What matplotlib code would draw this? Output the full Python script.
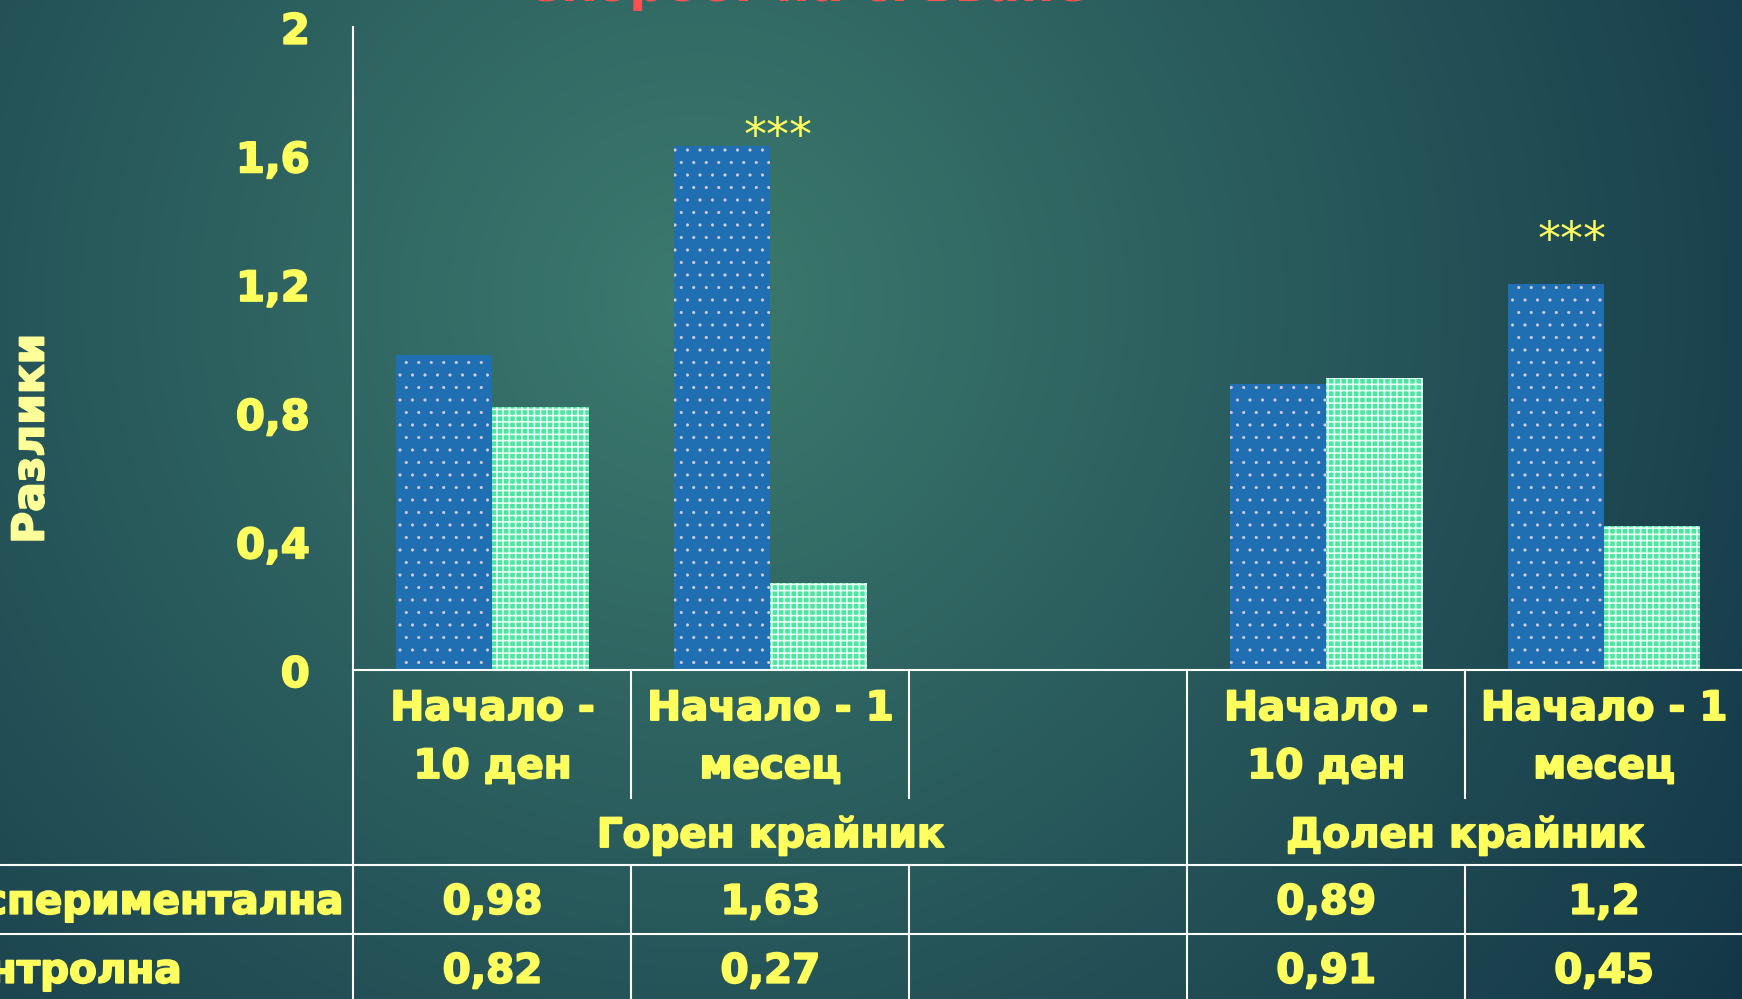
import numpy as np
import matplotlib
matplotlib.use("Agg")
import matplotlib.pyplot as plt
import matplotlib.patheffects as pe
from matplotlib.colors import to_rgb
from matplotlib.lines import Line2D
from matplotlib.transforms import blended_transform_factory

# ---- data -------------------------------------------------------------
categories = ["Начало -\n10 ден", "Начало - 1\nмесец", "", "Начало -\n10 ден", "Начало - 1\nмесец"]
groups = ["Горен крайник", "Долен крайник"]
group_centers = [1.0, 3.5]
series_names = ["Експериментална", "Контролна"]
experimental = [0.98, 1.63, np.nan, 0.89, 1.2]
control = [0.82, 0.27, np.nan, 0.91, 0.45]
significance = ["", "***", "", "", "***"]
yticks = [0, 0.4, 0.8, 1.2, 1.6, 2.0]
ylabel = "Разлики"
title = "Скорост на сгъване"

# ---- style --------------------------------------------------------------
W, H, DPI = 1743, 999, 150
YELLOW = "#FFFF5E"
PALE_YELLOW = "#FFFF99"
BLUE = "#1F6FB2"
GREEN = "#4AE6A2"
FS = 19.4
HEAVY = [pe.withStroke(linewidth=0.9, foreground=YELLOW)]

plt.rcParams["font.family"] = ["DejaVu Sans"]

fig = plt.figure(figsize=(W / DPI, H / DPI), dpi=DPI)


def fx(px):
    return px / W


def fy(py):
    return 1 - py / H


# background gradient
bg = fig.add_axes([0, 0, 1, 1], zorder=-10)
yy, xx = np.mgrid[0:1:500j, 0:1:872j]
t = np.clip(np.sqrt(((xx - 0.40) / 0.75) ** 2 + ((yy - 0.30) / 1.3) ** 2), 0, 1)
c0 = np.array(to_rgb("#3C7A6E"))
c1 = np.array(to_rgb("#123446"))
bg.imshow(c0 * (1 - t[..., None]) + c1 * t[..., None], aspect="auto",
          interpolation="bilinear", extent=[0, 1, 1, 0])
bg.set_axis_off()

# plot area
left_px, top_px, base_px = 353.5, 27.2, 670.3
ax = fig.add_axes([fx(left_px), fy(base_px), 1 - fx(left_px), (base_px - top_px) / H])
ax.patch.set_alpha(0)
ax.set_xlim(-0.5, len(categories) - 0.5)
ax.set_ylim(0, 2)

x = np.arange(len(categories))
w = 0.347
with plt.rc_context({"hatch.linewidth": 0.25}):
    ax.bar(x - w / 2, experimental, w, color=BLUE, edgecolor="#D9CFE6",
           hatch="..", linewidth=0)
with plt.rc_context({"hatch.linewidth": 0.8}):
    ax.bar(x + w / 2, control, w, color=GREEN, edgecolor="#E6FFF2",
           hatch="++++", linewidth=0)

# significance marks
star_offsets = {1: (8, -4), 4: (-32, 30)}
for i, mark in enumerate(significance):
    if mark:
        top = np.nanmax([experimental[i], control[i]])
        dx, dy = star_offsets.get(i, (0, 10))
        ax.annotate(mark, xy=(x[i], top), xytext=(dx, dy), textcoords="offset pixels",
                    ha="center", va="baseline", color=YELLOW, fontsize=22)

for side in ("top", "right"):
    ax.spines[side].set_visible(False)
for side in ("left", "bottom"):
    ax.spines[side].set_color("white")
    ax.spines[side].set_linewidth(1.0)
ax.set_xticks([])
ax.set_yticks(yticks, labels=[f"{v:g}".replace(".", ",") for v in yticks])
ax.tick_params(axis="y", length=0, pad=21, labelcolor=YELLOW, labelsize=FS + 0.6)
for lab in ax.get_yticklabels():
    lab.set_fontweight("bold")
    lab.set_path_effects(HEAVY)

fig.text(fx(31), fy(439), ylabel, rotation=90, ha="center", va="center",
         color=PALE_YELLOW, fontsize=21, fontweight="bold",
         path_effects=[pe.withStroke(linewidth=0.9, foreground=PALE_YELLOW)])

# title (runs off the top edge)
fig.text(fx(806), fy(1), title, ha="center", va="baseline", color="#FF5050",
         fontsize=24, fontweight="bold")

# ---- data table below the axis -----------------------------------------
def hline(y, x0, x1):
    fig.add_artist(Line2D([fx(x0), fx(x1)], [fy(y), fy(y)], color="white",
                          lw=1.0, transform=fig.transFigure))


def vline(xd, y0, y1):
    tr = blended_transform_factory(ax.transData, fig.transFigure)
    fig.add_artist(Line2D([xd, xd], [fy(y0), fy(y1)], color="white",
                          lw=1.0, transform=tr))


hline(865, 0, W)
hline(934, 0, W)
vline(-0.5, base_px, H)
vline(2.5, base_px, H)
for b in (0.5, 1.5, 3.5):
    vline(b, base_px, 798)
    vline(b, 865, H)

tr = blended_transform_factory(ax.transData, fig.transFigure)
txt = dict(color=YELLOW, fontsize=FS, fontweight="bold", ha="center", va="baseline",
           path_effects=HEAVY)

for i, cat in enumerate(categories):
    for line, base in zip(cat.split("\n"), (720, 778)):
        if line:
            ax.text(x[i], fy(base), line, transform=tr, **txt)

for g, gc in zip(groups, group_centers):
    ax.text(gc, fy(847), g, transform=tr, **txt)


def fmt(v):
    return "" if np.isnan(v) else f"{v:g}".replace(".", ",")


# row headers share a left edge; the longer one ends just before the table frame
renderer = fig.canvas.get_renderer()
row_texts = []
for name, vals, base in zip(series_names, (experimental, control), (913.7, 982.7)):
    row_texts.append(fig.text(0, fy(base), name, color=YELLOW, fontsize=FS,
                              fontweight="bold", ha="left", va="baseline",
                              path_effects=HEAVY))
    for i, v in enumerate(vals):
        ax.text(x[i], fy(base), fmt(v), transform=tr, **txt)
widest = max(t_.get_window_extent(renderer).width for t_ in row_texts)
for t_ in row_texts:
    t_.set_x(fx(343 - widest))

fig.savefig("out.png", dpi=DPI)
